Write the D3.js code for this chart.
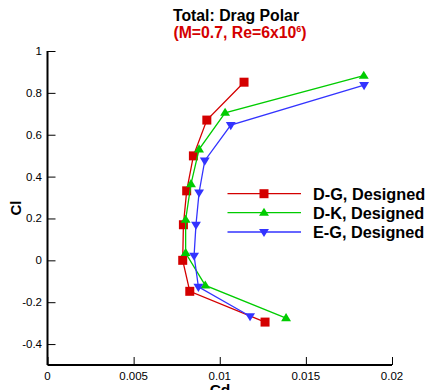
<!DOCTYPE html>
<html>
<head>
<meta charset="utf-8">
<script src="https://cdn.jsdelivr.net/npm/d3@7"></script>
<style>
  html, body { margin: 0; padding: 0; background: #fff; }
  svg { display: block; font-family: "Liberation Sans", Arial, sans-serif; }
</style>
</head>
<body>
<svg id="chart" width="427" height="390"></svg>
<script>
// Drag polar data: Cd (x) vs Cl (y) for three designed airfoil combinations
const seriesNames = ["D-G, Designed", "D-K, Designed", "E-G, Designed"];
const cdDG = [0.01263, 0.00826, 0.00785, 0.00789, 0.00808, 0.00847, 0.00925, 0.01141];
const clDG = [-0.295, -0.148, 0.0, 0.170, 0.332, 0.499, 0.670, 0.851];
const cdDK = [0.01385, 0.00916, 0.00802, 0.00802, 0.00833, 0.00880, 0.01031, 0.01836];
const clDK = [-0.276, -0.120, 0.035, 0.194, 0.364, 0.530, 0.705, 0.882];
const cdEG = [0.01176, 0.00876, 0.00851, 0.00862, 0.00880, 0.00913, 0.01064, 0.01838];
const clEG = [-0.267, -0.127, 0.022, 0.170, 0.324, 0.476, 0.646, 0.837];
const xTicks = [0, 0.005, 0.01, 0.015, 0.02];
const xTickLabels = ["0", "0.005", "0.01", "0.015", "0.02"];
const yTicks = [-0.4, -0.2, 0, 0.2, 0.4, 0.6, 0.8, 1];
const yTickLabels = ["-0.4", "-0.2", "0", "0.2", "0.4", "0.6", "0.8", "1"];

const colors = ["#d40000", "#00cc00", "#3333ff"];
const markers = ["square", "up", "down"];

const svg = d3.select("#chart");
const x = d3.scaleLinear().domain([0, 0.02]).range([47.5, 392]);
const y = d3.scaleLinear().domain([-0.5, 1]).range([365, 51]);

// Axes with inward ticks (major + minor)
function drawAxes() {
  const g = svg.append("g");
  const xAxisG = g.append("g").attr("transform", `translate(0,${y(-0.5)})`);
  xAxisG.call(d3.axisTop(x).tickValues(d3.range(0, 0.02001, 0.001)).tickSize(5).tickFormat(""));
  xAxisG.call(d3.axisTop(x).tickValues(xTicks).tickSize(8).tickFormat(""));
  xAxisG.selectAll("path.domain").remove();
  xAxisG.selectAll("line").attr("stroke", "#000").attr("stroke-width", 1);
  g.selectAll(".xl").data(xTicks).enter().append("text")
    .attr("x", d => x(d)).attr("y", y(-0.5) + 15)
    .attr("text-anchor", "middle").attr("font-size", 11.5).attr("fill", "#000")
    .text((d, i) => xTickLabels[i]);

  const yAxisG = g.append("g").attr("transform", `translate(${x(0)},0)`);
  yAxisG.call(d3.axisRight(y).tickValues(d3.range(-0.5, 1.0001, 0.05)).tickSize(5).tickFormat(""));
  yAxisG.call(d3.axisRight(y).tickValues(yTicks).tickSize(8).tickFormat(""));
  yAxisG.selectAll("path.domain").remove();
  yAxisG.selectAll("line").attr("stroke", "#000").attr("stroke-width", 1);
  g.selectAll(".yl").data(yTicks).enter().append("text")
    .attr("x", x(0) - 5.5).attr("y", d => y(d) + 4)
    .attr("text-anchor", "end").attr("font-size", 11.5).attr("fill", "#000")
    .text((d, i) => yTickLabels[i]);

  g.append("line").attr("x1", x(0)).attr("x2", x(0.02)).attr("y1", y(-0.5)).attr("y2", y(-0.5))
    .attr("stroke", "#000").attr("stroke-width", 2);
  g.append("line").attr("x1", x(0)).attr("x2", x(0)).attr("y1", y(-0.5)).attr("y2", y(1))
    .attr("stroke", "#000").attr("stroke-width", 2);
}
drawAxes();

function markerPath(type, size) {
  if (type === "square") return d3.symbol(d3.symbolSquare, size * size)();
  const h = size * 0.9, w = size * 0.55;
  if (type === "up") return `M0,${-h * 0.62}L${w},${h * 0.38}L${-w},${h * 0.38}Z`;
  return `M0,${h * 0.62}L${w},${-h * 0.38}L${-w},${-h * 0.38}Z`;
}

const allSeries = [
  { cd: cdDG, cl: clDG },
  { cd: cdDK, cl: clDK },
  { cd: cdEG, cl: clEG }
];

const line = d3.line().x(d => x(d[0])).y(d => y(d[1]));
allSeries.forEach((s, i) => {
  const pts = s.cd.map((c, k) => [c, s.cl[k]]);
  svg.append("path").datum(pts).attr("d", line)
    .attr("fill", "none").attr("stroke", colors[i]).attr("stroke-width", 1.3);
  svg.selectAll(".m" + i).data(pts).enter().append("path")
    .attr("transform", d => `translate(${x(d[0])},${y(d[1])})`)
    .attr("d", markerPath(markers[i], 9))
    .attr("fill", colors[i]);
});

// Legend
const legY = [193.7, 212.7, 232];
seriesNames.forEach((name, i) => {
  const g = svg.append("g");
  g.append("line").attr("x1", 227.5).attr("x2", 301).attr("y1", legY[i]).attr("y2", legY[i])
    .attr("stroke", colors[i]).attr("stroke-width", 1.3);
  g.append("path").attr("transform", `translate(264,${legY[i]})`)
    .attr("d", markerPath(markers[i], 9)).attr("fill", colors[i]);
  g.append("text").attr("x", 313).attr("y", legY[i] + 6)
    .attr("font-size", 16.3).attr("font-weight", "bold").attr("fill", "#000").text(name);
});

// Titles
svg.append("text").attr("x", 236).attr("y", 21).attr("text-anchor", "middle")
  .attr("font-size", 15.8).attr("font-weight", "bold").attr("fill", "#000").text("Total: Drag Polar");
const sub = svg.append("text").attr("x", 240).attr("y", 38).attr("text-anchor", "middle")
  .attr("font-size", 15.8).attr("font-weight", "bold").attr("fill", "#d40000");
sub.append("tspan").text("(M=0.7, Re=6x10");
sub.append("tspan").attr("dy", -6).attr("font-size", 9).text("6");
sub.append("tspan").attr("dy", 6).text(")");

// Axis titles
svg.append("text").attr("transform", "translate(21,208) rotate(-90)")
  .attr("text-anchor", "middle").attr("font-size", 15).attr("font-weight", "bold").text("Cl");
svg.append("text").attr("x", 220).attr("y", 395).attr("text-anchor", "middle")
  .attr("font-size", 15.5).attr("font-weight", "bold").text("Cd");
</script>
</body>
</html>
